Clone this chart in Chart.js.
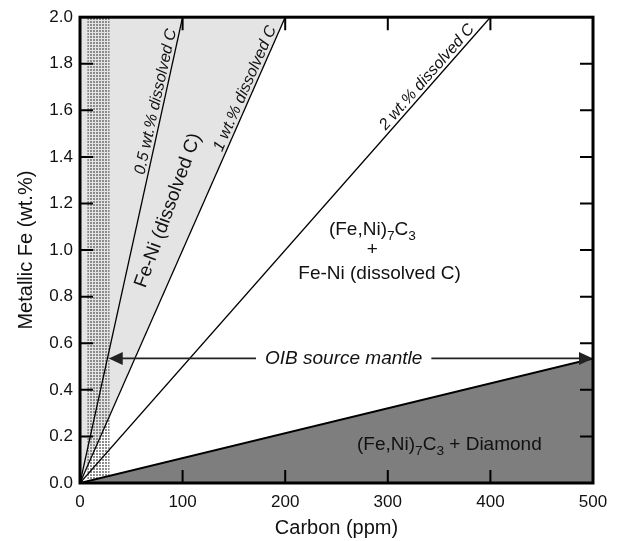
<!DOCTYPE html>
<html><head><meta charset="utf-8">
<script src="https://cdn.jsdelivr.net/npm/chart.js@4/dist/chart.umd.min.js"></script>
<style>html,body{margin:0;padding:0;background:#fff}#wrap{width:621px;height:541px;position:relative}</style>
</head><body><div id="wrap"><canvas id="c" width="621" height="541"></canvas></div>
<script>
const FONT = "'Liberation Sans', Arial, Helvetica, sans-serif";

// ---- data ----
const carbonTicks = [0, 100, 200, 300, 400, 500];
const feTicks = [0, 0.2, 0.4, 0.6, 0.8, 1.0, 1.2, 1.4, 1.6, 1.8, 2.0];
const dissolvedLabels = ['0.5 wt.% dissolved C', '1 wt.% dissolved C', '2 wt.% dissolved C'];
const dissolvedCarbonAtTop = [100, 200, 400];   // ppm C reached at Fe = 2.0 wt.%
const feTop = 2.0;
const diamondCarbon = [0, 500];
const diamondFe = [0, 0.535];
const oibCarbon = [28, 500];
const oibFe = 0.535;
const stippleCarbon = [7, 29];

// ---- annotation placement (data coords) ----
const lineLabelFe = [1.63, 1.68, 1.72];
const feNiLabel = {x: 86, y: 1.17, text: 'Fe-Ni (dissolved C)'};
const midLabel = [
  {x: 285, y: 1.066, segs: [['(Fe,Ni)', 0], ['7', 1], ['C', 0], ['3', 1]]},
  {x: 285, y: 0.981, segs: [['+', 0]]},
  {x: 292, y: 0.878, segs: [['Fe-Ni (dissolved C)', 0]]}
];
const diamondLabel = {x: 360, y: 0.141, segs: [['(Fe,Ni)', 0], ['7', 1], ['C', 0], ['3', 1], [' + Diamond', 0]]};
const oibLabel = {x: 257, text: 'OIB source mantle'};

const ctx0 = document.getElementById('c').getContext('2d');
function makeStipple() {
  const p = document.createElement('canvas');
  p.width = 3; p.height = 3;
  const g = p.getContext('2d');
  g.fillStyle = '#8c8c8c';
  g.fillRect(0, 0, 2, 2);
  return ctx0.createPattern(p, 'repeat');
}

const datasets = [];
// light gray Fe-Ni field: above the 1 wt.% line
datasets.push({
  data: [{x: 0, y: 0}, {x: dissolvedCarbonAtTop[1], y: feTop}],
  borderWidth: 0, borderColor: 'rgba(0,0,0,0)', backgroundColor: '#e4e4e4',
  fill: 'end', pointRadius: 0, order: 6
});
// stippled band
datasets.push({
  data: [{x: stippleCarbon[0], y: feTop}, {x: stippleCarbon[1], y: feTop}],
  borderWidth: 0, borderColor: 'rgba(0,0,0,0)', backgroundColor: makeStipple(),
  fill: 'origin', pointRadius: 0, order: 5
});
// diamond field
datasets.push({
  data: diamondCarbon.map((c, i) => ({x: c, y: diamondFe[i]})),
  borderWidth: 2, borderColor: '#000', backgroundColor: '#7e7e7e',
  fill: 'origin', pointRadius: 0, order: 4
});
// dissolved C lines
dissolvedCarbonAtTop.forEach((c, i) => {
  datasets.push({
    label: dissolvedLabels[i],
    data: [{x: 0, y: 0}, {x: c, y: feTop}],
    borderWidth: 1.3, borderColor: '#000', fill: false, pointRadius: 0, order: 1
  });
});

function drawRich(ctx, segs, cx, cy, size, italic) {
  const f = s => `${italic ? 'italic ' : ''}${s}px ${FONT}`;
  let total = 0;
  const ws = segs.map(([t, sub]) => { ctx.font = f(sub ? size * 0.72 : size); const w = ctx.measureText(t).width; total += w; return w; });
  let x = cx - total / 2;
  ctx.textAlign = 'left'; ctx.textBaseline = 'alphabetic';
  segs.forEach(([t, sub], i) => {
    ctx.font = f(sub ? size * 0.72 : size);
    ctx.fillText(t, x, cy + (sub ? size * 0.27 : 0));
    x += ws[i];
  });
}

const decor = {
  id: 'decor',
  afterDraw(chart) {
    const {ctx, chartArea: a, scales: {x: xs, y: ys}} = chart;
    const X = v => xs.getPixelForValue(v), Y = v => ys.getPixelForValue(v);
    ctx.save();
    ctx.fillStyle = '#111';
    // labels on dissolved lines
    dissolvedCarbonAtTop.forEach((c, i) => {
      const x0 = X(0), y0 = Y(0), x1 = X(c), y1 = Y(feTop);
      const ang = Math.atan2(y1 - y0, x1 - x0);
      const f = lineLabelFe[i];
      ctx.save();
      ctx.translate(X(c * f / feTop), Y(f));
      ctx.rotate(ang);
      ctx.font = `italic 16px ${FONT}`;
      ctx.textAlign = 'center'; ctx.textBaseline = 'alphabetic';
      ctx.fillText(dissolvedLabels[i], 0, -3.5);
      ctx.restore();
    });
    // Fe-Ni (dissolved C) rotated
    ctx.save();
    ctx.translate(X(feNiLabel.x), Y(feNiLabel.y));
    ctx.rotate(-70 * Math.PI / 180);
    ctx.font = `19px ${FONT}`;
    ctx.textAlign = 'center'; ctx.textBaseline = 'middle';
    ctx.fillText(feNiLabel.text, 0, 0);
    ctx.restore();
    // middle field label
    midLabel.forEach(l => drawRich(ctx, l.segs, X(l.x), Y(l.y), 19, false));
    // diamond field label
    drawRich(ctx, diamondLabel.segs, X(diamondLabel.x), Y(diamondLabel.y), 19, false);
    // OIB arrow
    const ay = Y(oibFe), ax0 = X(oibCarbon[0]), ax1 = X(oibCarbon[1]);
    ctx.font = `italic 19px ${FONT}`;
    const tw = ctx.measureText(oibLabel.text).width;
    const tc = X(oibLabel.x);
    ctx.textAlign = 'center'; ctx.textBaseline = 'middle';
    ctx.fillText(oibLabel.text, tc, ay);
    ctx.strokeStyle = '#222'; ctx.lineWidth = 1.6;
    const hl = 14, hw = 6.5;
    ctx.beginPath();
    ctx.moveTo(ax0 + hl - 1, ay); ctx.lineTo(tc - tw / 2 - 9, ay);
    ctx.moveTo(tc + tw / 2 + 9, ay); ctx.lineTo(ax1 - hl + 1, ay);
    ctx.stroke();
    ctx.fillStyle = '#222';
    ctx.beginPath(); ctx.moveTo(ax0, ay); ctx.lineTo(ax0 + hl, ay - hw); ctx.lineTo(ax0 + hl, ay + hw); ctx.closePath(); ctx.fill();
    ctx.beginPath(); ctx.moveTo(ax1, ay); ctx.lineTo(ax1 - hl, ay - hw); ctx.lineTo(ax1 - hl, ay + hw); ctx.closePath(); ctx.fill();
    // inward ticks
    ctx.strokeStyle = '#000'; ctx.lineWidth = 2;
    const tl = 13;
    ctx.beginPath();
    carbonTicks.slice(1, -1).forEach(v => {
      const px = X(v);
      ctx.moveTo(px, a.bottom); ctx.lineTo(px, a.bottom - tl);
      ctx.moveTo(px, a.top); ctx.lineTo(px, a.top + tl);
    });
    feTicks.slice(1, -1).forEach(v => {
      const py = Y(v);
      ctx.moveTo(a.left, py); ctx.lineTo(a.left + tl, py);
      ctx.moveTo(a.right, py); ctx.lineTo(a.right - tl, py);
    });
    ctx.stroke();
    // frame
    ctx.lineWidth = 3;
    ctx.strokeRect(a.left, a.top, a.right - a.left, a.bottom - a.top);
    ctx.restore();
  }
};

new Chart(document.getElementById('c'), {
  type: 'line',
  data: {datasets},
  options: {
    responsive: false, animation: false, devicePixelRatio: 1,
    layout: {padding: {top: 16, right: 28, left: 0, bottom: 0}},
    plugins: {legend: {display: false}, tooltip: {enabled: false}},
    scales: {
      x: {
        type: 'linear', min: 0, max: 500,
        afterBuildTicks: s => { s.ticks = carbonTicks.map(v => ({value: v})); },
        ticks: {font: {family: FONT, size: 17}, color: '#111', padding: 9, maxRotation: 0, callback: v => String(v)},
        grid: {display: false, drawTicks: false}, border: {display: false},
        title: {display: true, text: 'Carbon (ppm)', font: {family: FONT, size: 20}, color: '#111', padding: {top: 0, bottom: 1}},
        afterFit: s => { s.height = 58; }
      },
      y: {
        type: 'linear', min: 0, max: 2.0,
        afterBuildTicks: s => { s.ticks = feTicks.map(v => ({value: v})); },
        ticks: {font: {family: FONT, size: 17}, color: '#111', padding: 7, callback: v => Number(v).toFixed(1)},
        grid: {display: false, drawTicks: false}, border: {display: false},
        title: {display: true, text: 'Metallic Fe (wt.%)', font: {family: FONT, size: 20}, color: '#111', padding: {top: 14, bottom: 0}},
        afterFit: s => { s.width = 80; }
      }
    }
  },
  plugins: [decor]
});
</script>
</body></html>
